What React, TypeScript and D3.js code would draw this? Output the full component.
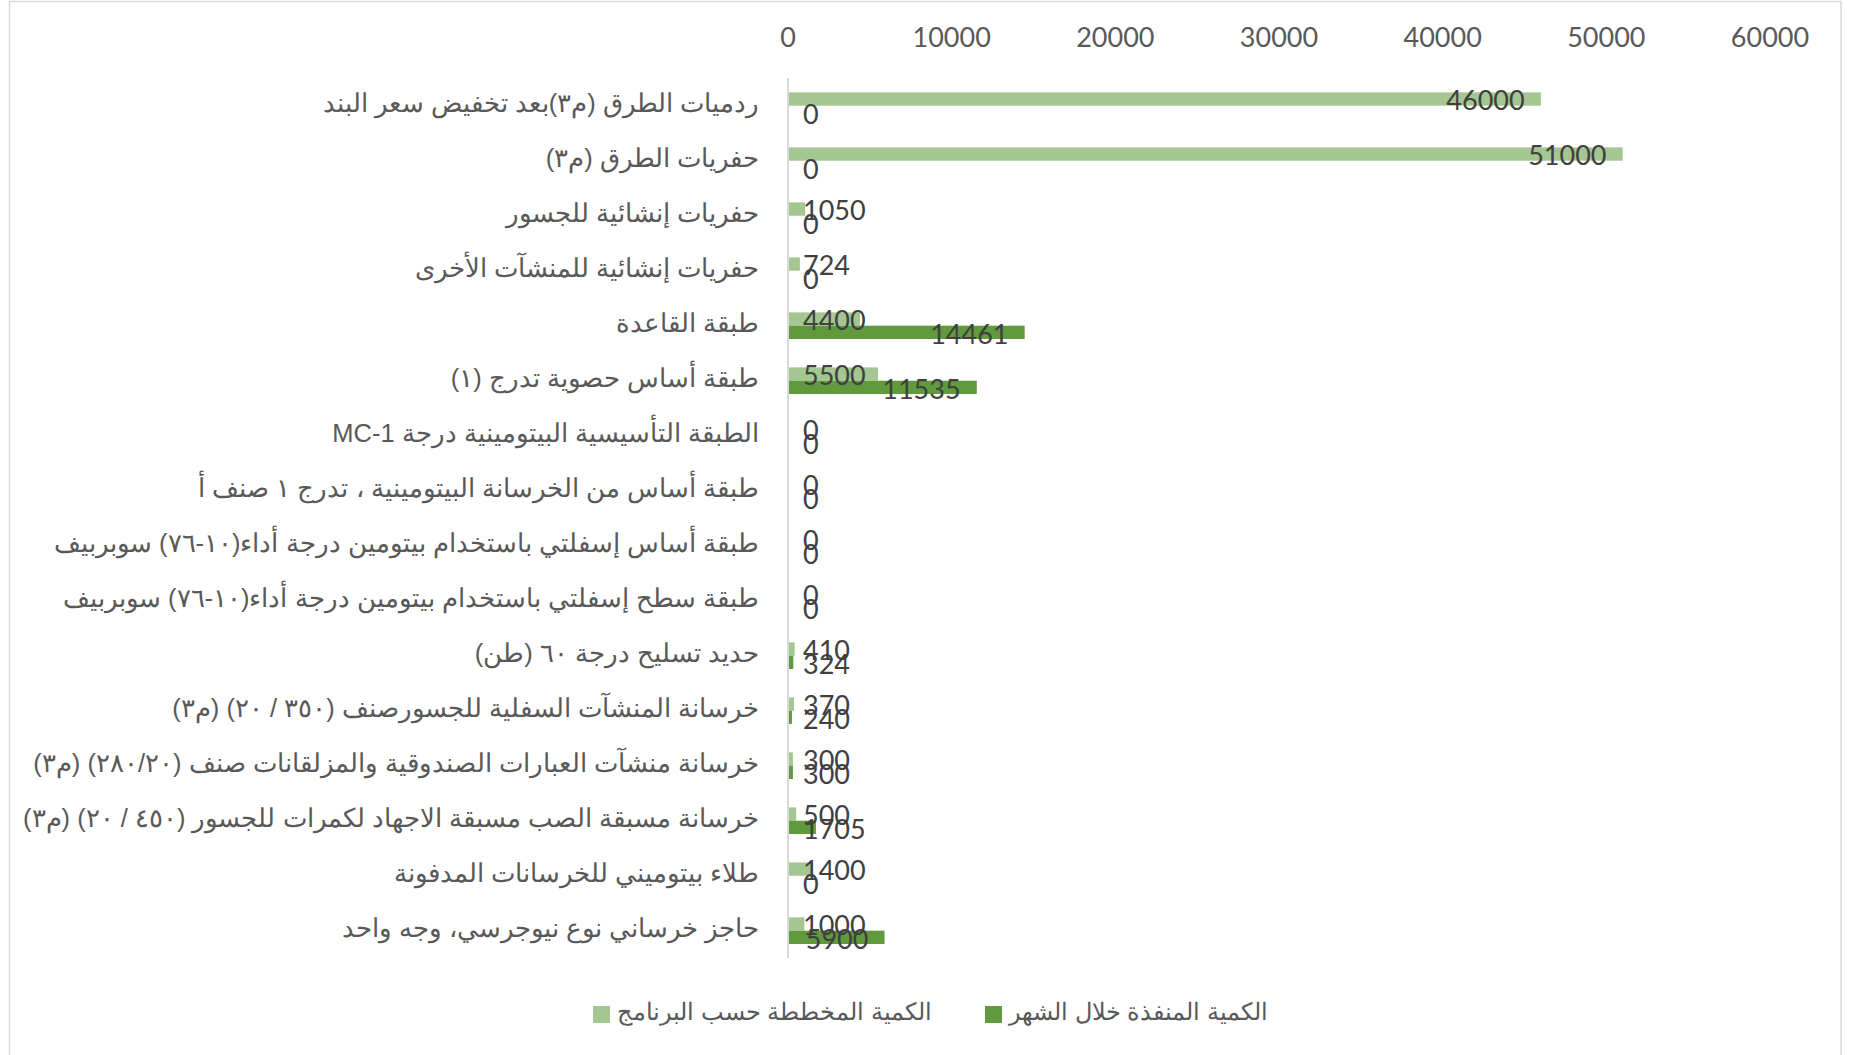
import React from "react";
import * as d3 from "d3";

const categories: string[] = [
  "ردميات الطرق (م٣)بعد تخفيض سعر البند",
  "حفريات الطرق (م٣)",
  "حفريات إنشائية للجسور",
  "حفريات إنشائية للمنشآت الأخرى",
  "طبقة القاعدة",
  "طبقة أساس حصوية تدرج (١)",
  "الطبقة التأسيسية البيتومينية درجة MC-1",
  "طبقة أساس من الخرسانة البيتومينية ، تدرج ١ صنف أ",
  "طبقة أساس إسفلتي باستخدام بيتومين درجة أداء(١٠-٧٦) سوبربيف",
  "طبقة سطح إسفلتي باستخدام بيتومين درجة أداء(١٠-٧٦) سوبربيف",
  "حديد تسليح درجة ٦٠ (طن)",
  "خرسانة المنشآت السفلية للجسورصنف (٣٥٠ / ٢٠) (م٣)",
  "خرسانة منشآت العبارات الصندوقية والمزلقانات صنف (٢٨٠/٢٠) (م٣)",
  "خرسانة مسبقة الصب مسبقة الاجهاد لكمرات للجسور (٤٥٠ / ٢٠) (م٣)",
  "طلاء بيتوميني للخرسانات المدفونة",
  "حاجز خرساني نوع نيوجرسي، وجه واحد",
];

const planned: number[] = [46000, 51000, 1050, 724, 4400, 5500, 0, 0, 0, 0, 410, 370, 300, 500, 1400, 1000];
const executed: number[] = [0, 0, 0, 0, 14461, 11535, 0, 0, 0, 0, 324, 240, 300, 1705, 0, 5900];

const tickValues: number[] = [0, 10000, 20000, 30000, 40000, 50000, 60000];

const seriesNames: string[] = ["الكمية المخططة حسب البرنامج", "الكمية المنفذة خلال الشهر"];
const seriesColors: string[] = ["#a4c690", "#609a3c"];

const W = 1850;
const H = 1055;
const numFont = "Lato, 'Open Sans', sans-serif";
const arFont = "'Liberation Sans', Arial, sans-serif";
const numSize = 27;
const digitW = 15.7;

export default function App() {
  const x = d3.scaleLinear().domain([0, 60000]).range([788, 1770]);
  const y = d3.scaleBand<string>().domain(categories).range([78.2, 958.2]);
  const barH = 13.3;
  const x0 = x(0);

  const labelX = (v: number) => {
    const w = String(v).length * digitW;
    return Math.max(x(v) - 16 - w, x0 + 15);
  };

  const rows = categories.map((c, i) => {
    const cy = (y(c) as number) + y.bandwidth() / 2;
    return { c, i, cy };
  });

  return (
    <svg
      width={W}
      height={H}
      style={{ position: "absolute", left: 0, top: 0, background: "#fff" }}
    >
      <rect x={0} y={0} width={W} height={H} fill="#fff" />
      <rect x={9.5} y={1.5} width={1831.5} height={1120} fill="none" stroke="#d9d9d9" strokeWidth={1.5} />

      {tickValues.map((t) => (
        <text
          key={t}
          x={x(t)}
          y={46.5}
          textAnchor="middle"
          fontFamily={numFont}
          fontSize={numSize}
          fill="#595959"
        >
          {t}
        </text>
      ))}

      {rows.map(({ c, i, cy }) => (
        <g key={c}>
          <rect x={x0} y={cy - barH} width={x(planned[i]) - x0} height={barH} fill={seriesColors[0]} />
          <rect x={x0} y={cy} width={x(executed[i]) - x0} height={barH} fill={seriesColors[1]} />
          <text
            x={759}
            y={cy + 6.5}
            direction="rtl"
            textAnchor="start"
            fontFamily={arFont}
            fontSize={25.5}
            fill="#595959"
          >
            {c}
          </text>
        </g>
      ))}

      <line x1={x0} x2={x0} y1={78} y2={958} stroke="#d9d9d9" strokeWidth={2} />

      {rows.map(({ c, i, cy }) => (
        <g key={"l" + c}>
          <text
            x={labelX(planned[i])}
            y={cy - barH / 2 + 10.5}
            fontFamily={numFont}
            fontSize={numSize}
            fill="#404040"
          >
            {planned[i]}
          </text>
          <text
            x={labelX(executed[i])}
            y={cy + barH / 2 + 12}
            fontFamily={numFont}
            fontSize={numSize}
            fill="#404040"
          >
            {executed[i]}
          </text>
        </g>
      ))}

      <g>
        <rect x={593} y={1006} width={17} height={17} fill={seriesColors[0]} />
        <text x={932} y={1020} direction="rtl" textAnchor="start" fontFamily={arFont} fontSize={24} fill="#595959">
          {seriesNames[0]}
        </text>
        <rect x={985} y={1006} width={17} height={17} fill={seriesColors[1]} />
        <text x={1268} y={1020} direction="rtl" textAnchor="start" fontFamily={arFont} fontSize={24} fill="#595959">
          {seriesNames[1]}
        </text>
      </g>
    </svg>
  );
}
